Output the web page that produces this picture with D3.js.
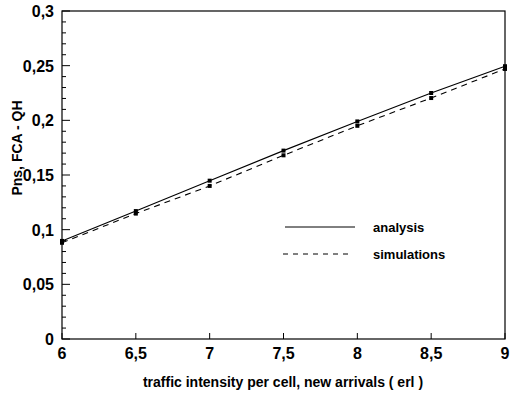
<!DOCTYPE html>
<html lang="en">
<head>
   <meta charset="UTF-8">
   <title>Pns FCA - QH</title>
   <script src="https://cdn.jsdelivr.net/npm/d3@7"></script>
   <style>
      body { margin: 0; background: #fff; }
      text { font-family: "Liberation Sans", Arial, sans-serif; fill: #000; }
   </style>
</head>
<body>
   <svg width="511" height="396"></svg>
   <script>
       // data
       const traffic = [6, 6.5, 7, 7.5, 8, 8.5, 9];
       const analysis = [0.0897, 0.117, 0.1448, 0.1723, 0.199, 0.225, 0.2495];
       const simulations = [0.088, 0.1147, 0.140, 0.168, 0.195, 0.2204, 0.247];
       const xTicks = [6, 6.5, 7, 7.5, 8, 8.5, 9];
       const yTicks = [0, 0.05, 0.1, 0.15, 0.2, 0.25, 0.3];

       const svg = d3.select('svg');
       const plotL = 62, plotR = 505, plotT = 11, plotB = 339;

       const x = d3.scaleLinear().domain([6, 9]).range([plotL, plotR]);
       const y = d3.scaleLinear().domain([0, 0.3]).range([plotB, plotT]);
       const fmt = d => String(d).replace('.', ',');

       // frame
       svg.append('rect')
           .attr('x', plotL).attr('y', plotT)
           .attr('width', plotR - plotL).attr('height', plotB - plotT)
           .attr('fill', 'none').attr('stroke', '#000').attr('stroke-width', 1.2);

       // y ticks (inside), minor every 0.01
       const yMinor = d3.range(0, 0.3001, 0.01);
       svg.append('g').selectAll('line').data(yMinor).join('line')
           .attr('x1', plotL).attr('x2', d => plotL + (Math.round(d * 100) % 5 === 0 ? 8 : 4))
           .attr('y1', d => y(d)).attr('y2', d => y(d))
           .attr('stroke', '#000').attr('stroke-width', 1);
       svg.append('g').selectAll('text').data(yTicks).join('text')
           .attr('x', plotL - 8).attr('y', d => y(d) + 6)
           .attr('text-anchor', 'end')
           .attr('font-size', 16).attr('font-weight', 'bold')
           .text(fmt);

       // x ticks (inside)
       svg.append('g').selectAll('line').data(xTicks).join('line')
           .attr('x1', d => x(d)).attr('x2', d => x(d))
           .attr('y1', plotB).attr('y2', plotB - 6)
           .attr('stroke', '#000').attr('stroke-width', 1);
       svg.append('g').selectAll('text').data(xTicks).join('text')
           .attr('x', d => x(d)).attr('y', plotB + 20)
           .attr('text-anchor', 'middle')
           .attr('font-size', 16).attr('font-weight', 'bold')
           .text(fmt);

       // axis titles
       svg.append('text')
           .attr('x', 283).attr('y', 387)
           .attr('text-anchor', 'middle')
           .attr('font-size', 14).attr('font-weight', 'bold')
           .text('traffic intensity per cell, new arrivals ( erl )');
       svg.append('text')
           .attr('transform', 'translate(22,148) rotate(-90)')
           .attr('text-anchor', 'middle')
           .attr('font-size', 14).attr('font-weight', 'bold')
           .text('Pns, FCA - QH');

       const line = d3.line().x((d, i) => x(traffic[i])).y(d => y(d));

       svg.append('path').datum(analysis)
           .attr('d', line).attr('fill', 'none')
           .attr('stroke', '#000').attr('stroke-width', 1.1);
       svg.append('path').datum(simulations)
           .attr('d', line).attr('fill', 'none')
           .attr('stroke', '#000').attr('stroke-width', 1.1)
           .attr('stroke-dasharray', '6,5');

       // markers
       [analysis, simulations].forEach(s => {
           svg.append('g').selectAll('rect').data(s).join('rect')
               .attr('x', (d, i) => x(traffic[i]) - 2)
               .attr('y', d => y(d) - 2)
               .attr('width', 4).attr('height', 4)
               .attr('fill', '#000');
       });

       // legend
       const legend = svg.append('g');
       legend.append('line')
           .attr('x1', 285).attr('x2', 355).attr('y1', 227).attr('y2', 227)
           .attr('stroke', '#000').attr('stroke-width', 1);
       legend.append('line')
           .attr('x1', 283).attr('x2', 353).attr('y1', 254).attr('y2', 254)
           .attr('stroke', '#000').attr('stroke-width', 1)
           .attr('stroke-dasharray', '5,5');
       legend.append('text')
           .attr('x', 373).attr('y', 232)
           .attr('font-size', 13).attr('font-weight', 'bold')
           .text('analysis');
       legend.append('text')
           .attr('x', 373).attr('y', 259)
           .attr('font-size', 13).attr('font-weight', 'bold')
           .text('simulations');
   </script>
</body>
</html>
